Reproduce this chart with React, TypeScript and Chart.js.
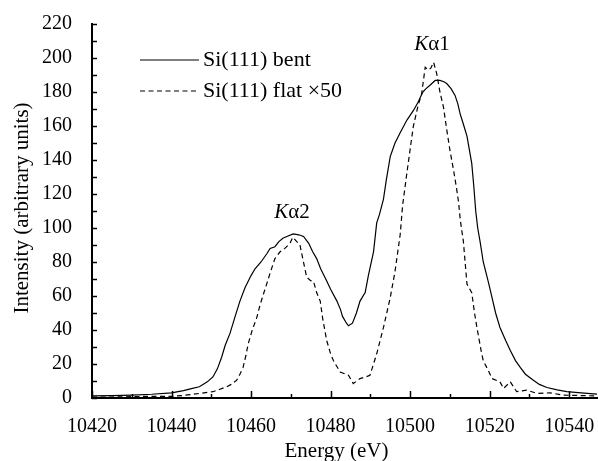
import React, { useEffect, useRef } from "react";
import { Chart, registerables } from "chart.js";

Chart.register(...registerables);

const bentEnergy = [
  10420, 10425, 10430, 10435, 10440, 10443, 10445, 10447, 10449, 10450.4, 10451.5, 10452.6, 10453.5,
  10454.7, 10456, 10457.2, 10458.5, 10460, 10461, 10462.5, 10464, 10464.8, 10466, 10467, 10468, 10469,
  10470.6, 10472, 10473.2, 10474.5, 10475.5, 10476.5, 10477.5, 10479, 10480, 10481.6, 10482.5, 10483,
  10484, 10484.5, 10485.5, 10486.5, 10487.4, 10488.7, 10489.5, 10490.8, 10491.6, 10492.3, 10493.3,
  10494, 10495, 10496.2, 10497.5, 10499.2, 10500.8, 10502, 10503.2, 10504, 10505, 10506.3, 10507.5,
  10508.5, 10509.2, 10510.3, 10511.3, 10512, 10512.6, 10513.4, 10514.3, 10515.5, 10516, 10516.5,
  10517, 10517.6, 10518.4, 10519.7, 10520.6, 10521.5, 10522.6, 10524, 10525.2, 10526.5, 10527.7,
  10529, 10531, 10532.5, 10534.4, 10537, 10539.4, 10543, 10547,
];
const bentIntensity = [
  1.2, 1.4, 1.7, 2.2, 3, 4.3, 5.5, 6.6, 9.5, 12.4, 17, 24, 31,
  38, 48, 57, 65, 72, 76, 80, 85, 88, 89, 92, 94, 95,
  96.5, 96, 95, 91, 86, 82, 76, 69, 64, 57, 52, 48,
  44, 42.5, 44, 50, 57, 62, 72, 86, 103, 108, 117,
  128, 142, 150, 156, 163.5, 169, 174, 180, 182, 184, 186.8, 186.8,
  186, 185, 182, 178, 173, 167, 161, 154, 138, 125, 110,
  100, 92, 80, 68, 59, 50, 41.5, 34, 28, 22, 18,
  14, 10.5, 8, 6.2, 4.8, 3.7, 3, 2.3,
];

const flatEnergy = [
  10420, 10425, 10430, 10435, 10440, 10443, 10447, 10450.4, 10452, 10453.9, 10455, 10456.4, 10457.2,
  10458, 10458.7, 10459.3, 10460.3, 10461.4, 10462.3, 10463.1, 10464, 10465, 10466, 10467.3, 10468.5,
  10469.8, 10470.5, 10471.5, 10472.3, 10473, 10474, 10475, 10475.7, 10476.5, 10477.4, 10478, 10479,
  10480, 10480.7, 10482.4, 10484.5, 10485.7, 10487.4, 10489, 10489.9, 10490.8, 10491.6, 10493.3,
  10495, 10496.2, 10497.5, 10498.1, 10499.2, 10500.8, 10502, 10502.9, 10503.8, 10504.5, 10505.2,
  10505.9, 10506.7, 10507.5, 10508.4, 10509.2, 10510, 10511, 10511.7, 10512.2, 10512.6, 10513.4,
  10514.3, 10515.5, 10516.2, 10516.8, 10518, 10518.4, 10519.7, 10520.6, 10522.6, 10523.5, 10525.2,
  10526.8, 10529.3, 10531.9, 10535.2, 10538.5, 10542, 10547,
];
const flatIntensity = [
  0.5, 0.6, 0.8, 1, 1, 1.5, 2.7, 3.7, 5, 6.6, 8, 10.5, 14,
  18, 25, 32, 40, 47, 55, 61, 67.6, 75, 82, 86, 88,
  91, 94.5, 92, 90, 82, 71, 69, 68.6, 62, 57, 47, 34,
  26, 22, 15.3, 13.4, 8.5, 11.4, 12.5, 13.4, 20, 26, 41.5,
  59, 74.4, 96, 113, 132.6, 159.7, 172, 179, 194.6, 193, 194,
  197.5, 190.7, 180, 171, 158, 146, 133, 123, 115, 105, 92,
  67, 62, 50, 41.5, 26, 22, 16, 11.4, 9.5, 5.6, 9.5,
  3.7, 4.6, 2.7, 3, 1.7, 1.5, 1.2,
];

const xTickValues = [10420, 10440, 10460, 10480, 10500, 10520, 10540];
const yTickValues = [0, 20, 40, 60, 80, 100, 120, 140, 160, 180, 200, 220];
const seriesLabels = ["Si(111) bent", "Si(111) flat \u00d750"];
const peakLabels = [
  { main: "K", sub: "\u03b11", x: 10505.5, y: 208 },
  { main: "K", sub: "\u03b12", x: 10470.3, y: 109 },
];
const xTitle = "Energy (eV)";
const yTitle = "Intensity (arbitrary units)";

const FONT = "\"Liberation Serif\", \"Times New Roman\", Tinos, \"DejaVu Serif\", serif";

const decorPlugin = {
  id: "decor",
  afterDraw(chart: any) {
    const { ctx, chartArea, scales } = chart;
    const xs = scales.x;
    const ys = scales.y;
    ctx.save();
    ctx.strokeStyle = "#000";
    ctx.fillStyle = "#000";
    ctx.lineWidth = 1.5;
    for (let v = 10420; v <= 10547; v += 10) {
      const px = Math.round(xs.getPixelForValue(v)) + 0.5;
      const len = (v - 10420) % 20 === 0 ? 7 : 4;
      ctx.beginPath();
      ctx.moveTo(px, chartArea.bottom);
      ctx.lineTo(px, chartArea.bottom - len);
      ctx.stroke();
    }
    for (let v = 0; v <= 220; v += 10) {
      const py = Math.round(ys.getPixelForValue(v)) + 0.5;
      ctx.beginPath();
      ctx.moveTo(chartArea.left, py);
      ctx.lineTo(chartArea.left + 5, py);
      ctx.stroke();
    }
    const lx0 = chartArea.left + 48;
    const lx1 = chartArea.left + 107;
    const ly = [ys.getPixelForValue(200) + 2, ys.getPixelForValue(180) - 1];
    ctx.lineWidth = 1.2;
    ctx.font = `22px ${FONT}`;
    ctx.textBaseline = "middle";
    ctx.textAlign = "left";
    for (let i = 0; i < 2; i++) {
      ctx.setLineDash(i === 0 ? [] : [5, 3.5]);
      ctx.beginPath();
      ctx.moveTo(lx0, ly[i]);
      ctx.lineTo(lx1, ly[i]);
      ctx.stroke();
      ctx.setLineDash([]);
      ctx.fillText(seriesLabels[i], lx1 + 4, ly[i]);
    }
    for (const p of peakLabels) {
      const cx = xs.getPixelForValue(p.x);
      const cy = ys.getPixelForValue(p.y);
      ctx.font = `italic 21px ${FONT}`;
      const w1 = ctx.measureText(p.main).width;
      ctx.font = `21px ${FONT}`;
      const w2 = ctx.measureText(p.sub).width;
      const start = cx - (w1 + w2) / 2;
      ctx.font = `italic 21px ${FONT}`;
      ctx.fillText(p.main, start, cy);
      ctx.font = `21px ${FONT}`;
      ctx.fillText(p.sub, start + w1, cy);
    }
    ctx.font = `21px ${FONT}`;
    ctx.textAlign = "center";
    ctx.textBaseline = "alphabetic";
    ctx.fillText(xTitle, (chartArea.left + chartArea.right) / 2 - 8, 457);
    ctx.save();
    ctx.translate(28, 208);
    ctx.rotate(-Math.PI / 2);
    ctx.fillText(yTitle, 0, 0);
    ctx.restore();
    ctx.restore();
  },
};

export default function App() {
  const ref = useRef<HTMLCanvasElement | null>(null);
  useEffect(() => {
    document.body.style.margin = "0";
    const canvas = ref.current;
    if (!canvas) return;
    const chart = new Chart(canvas, {
      type: "line",
      data: {
        datasets: [
          {
            label: seriesLabels[0],
            data: bentEnergy.map((e, i) => ({ x: e, y: bentIntensity[i] })),
            borderColor: "#000",
            borderWidth: 1.2,
            pointRadius: 0,
            tension: 0,
            fill: false,
          },
          {
            label: seriesLabels[1],
            data: flatEnergy.map((e, i) => ({ x: e, y: flatIntensity[i] })),
            borderColor: "#000",
            borderWidth: 1.2,
            borderDash: [5, 3.5],
            pointRadius: 0,
            tension: 0,
            fill: false,
          },
        ],
      },
      options: {
        animation: false,
        responsive: true,
        maintainAspectRatio: false,
        layout: { padding: { top: 20, right: 1, left: 0, bottom: 0 } },
        plugins: { legend: { display: false }, tooltip: { enabled: false } },
        scales: {
          x: {
            type: "linear",
            min: 10420,
            max: 10547,
            afterBuildTicks: (s: any) => {
              s.ticks = xTickValues.map((v) => ({ value: v }));
            },
            afterFit: (s: any) => {
              s.height = 63;
              s.paddingLeft = 0;
              s.paddingRight = 0;
            },
            grid: { display: false },
            border: { display: true, color: "#000", width: 2 },
            ticks: {
              color: "#000",
              font: { family: FONT, size: 20 },
              padding: 9,
              maxRotation: 0,
              autoSkip: false,
              callback: (v: any) => String(v),
            },
          },
          y: {
            type: "linear",
            min: 0,
            max: 220,
            afterBuildTicks: (s: any) => {
              s.ticks = yTickValues.map((v) => ({ value: v }));
            },
            afterFit: (s: any) => {
              s.width = 92;
            },
            grid: { display: false },
            border: { display: true, color: "#000", width: 2 },
            ticks: {
              color: "#000",
              font: { family: FONT, size: 20 },
              padding: 12,
              autoSkip: false,
              callback: (v: any) => String(v),
            },
          },
        },
      },
      plugins: [decorPlugin],
    });
    return () => chart.destroy();
  }, []);
  return (
    <div style={{ position: "fixed", left: 0, top: 0, width: 598, height: 461, background: "#fff" }}>
      <canvas ref={ref} />
    </div>
  );
}
